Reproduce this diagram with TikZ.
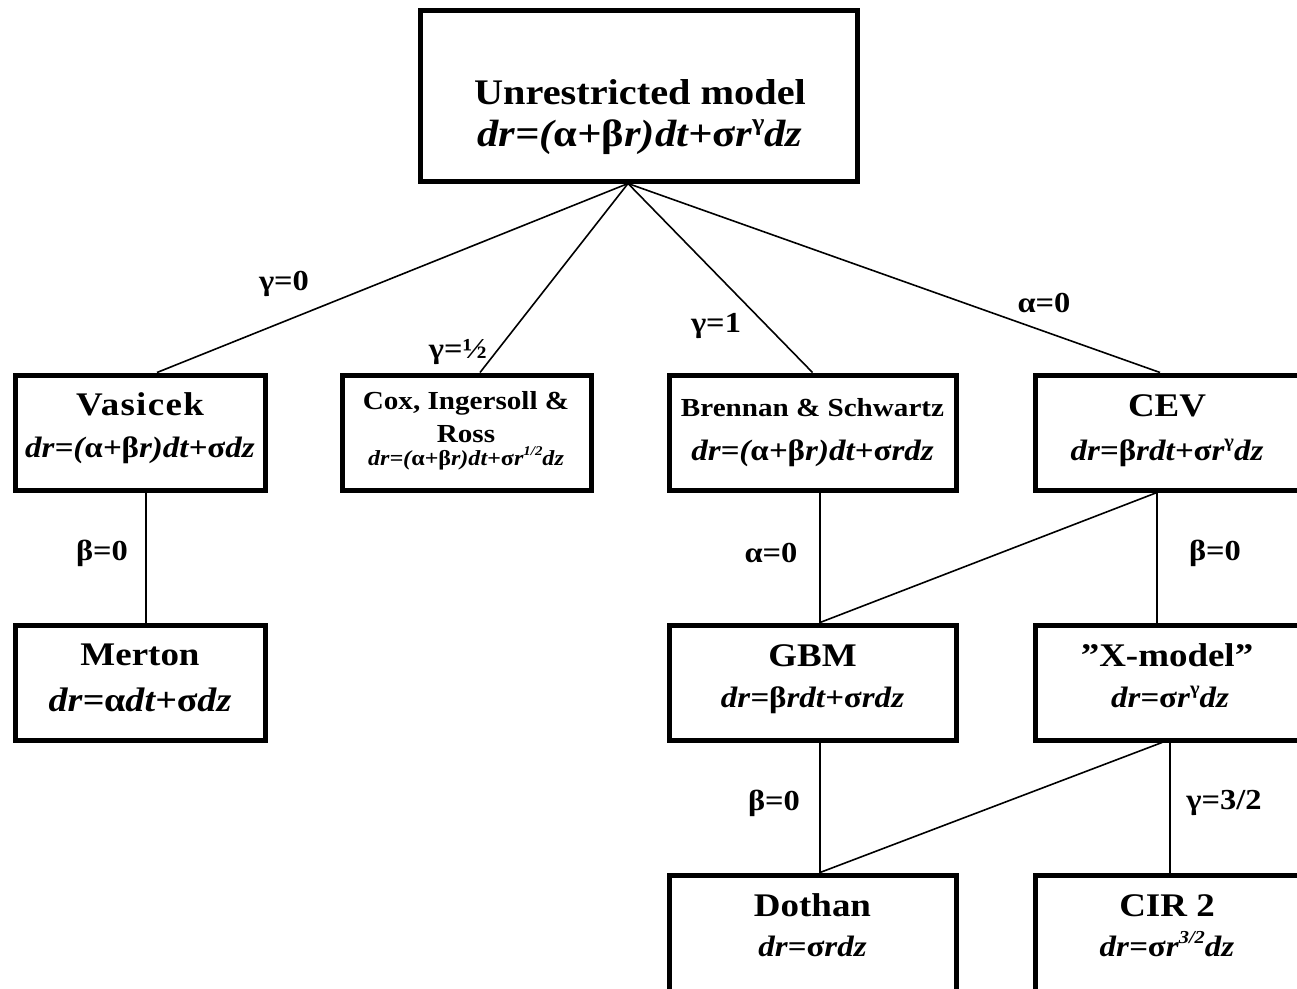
\documentclass[tikz,border=0pt]{standalone}
\usepackage{graphicx}
\usepackage{fontspec}
\setmainfont[FakeStretch=1.12]{Liberation Serif}
\newcommand{\gk}[1]{{\upshape #1}}
\newcommand{\supx}[1]{\raisebox{0.42em}{\scalebox{0.62}{#1}}}
\tikzset{
  box/.style={draw, line width=5pt, inner sep=0pt, minimum height=115pt},
  ttl/.style={font=\bfseries\fontsize{33}{40}\selectfont, anchor=base, inner sep=0pt},
  frm/.style={font=\bfseries\itshape\fontsize{29.5}{36}\selectfont, anchor=base, inner sep=0pt},
  lbl/.style={font=\bfseries\fontsize{29}{32}\selectfont, inner sep=0pt},
  conn/.style={line width=1.6pt}
}
\begin{document}
\begin{tikzpicture}[x=1pt,y=-1pt]
\useasboundingbox (0,0) rectangle (1297,988);
\clip (0,0) rectangle (1297,988);
\fill[white] (0,0) rectangle (1297,988);
% boxes
\node[box, minimum width=437pt, minimum height=170.5pt] (top) at (638.5,95.75) {};
\node[box, minimum width=250pt] (vas) at (140,432.5) {};
\node[box, minimum width=249pt] (cir) at (466.5,432.5) {};
\node[box, minimum width=287pt] (bs) at (812.5,432.5) {};
\node[box, minimum width=275pt] (cev) at (1172.5,432.5) {};
\node[box, minimum width=250pt] (mer) at (140,682.5) {};
\node[box, minimum width=287pt] (gbm) at (812.5,682.5) {};
\node[box, minimum width=275pt] (xm) at (1172.5,682.5) {};
\node[box, minimum width=287pt, minimum height=130pt] (dot) at (812.5,940) {};
\node[box, minimum width=275pt, minimum height=130pt] (cir2) at (1172.5,940) {};
% connectors
\coordinate (hub) at ([xshift=-10.5pt]top.south);
\draw[conn] (hub) -- ([xshift=17pt]vas.north);
\draw[conn] (hub) -- ([xshift=13.5pt]cir.north);
\draw[conn] (hub) -- ([xshift=0pt]bs.north);
\draw[conn] (hub) -- ([xshift=-12.5pt]cev.north);
\draw[conn] ([xshift=6pt]vas.south) -- ([xshift=6pt]mer.north);
\draw[conn] ([xshift=7.5pt]bs.south) -- ([xshift=7.5pt]gbm.north);
\draw[conn] ([xshift=-15.5pt]cev.south) -- ([xshift=-15.5pt]xm.north);
\draw[conn] ([xshift=-15.5pt]cev.south) -- ([xshift=7.5pt]gbm.north);
\draw[conn] ([xshift=7.5pt]gbm.south) -- ([xshift=7.5pt]dot.north);
\draw[conn] ([xshift=-10.5pt]xm.south) -- ([xshift=7.5pt]dot.north);
\draw[conn] ([xshift=-2.5pt]xm.south) -- ([xshift=-2.5pt]cir2.north);
% texts
\node[ttl, font=\bfseries\fontsize{36}{44}\selectfont] (topT) at (640,104) {Unrestricted model};
\node[frm, font=\bfseries\itshape\fontsize{38}{44}\selectfont] (topF) at (640,146) {dr=(\gk{α}+\gk{β}r)dt+\gk{σ}r\supx{\gk{γ}}dz};
\node[ttl] (vasT) at (140,415) {\addfontfeature{LetterSpace=4}Vasicek};
\node[frm] (vasF) at (140,457) {dr=(\gk{α}+\gk{β}r)dt+\gk{σ}dz};
\node[ttl, font=\bfseries\fontsize{26}{30}\selectfont] (cirT1) at (466,409) {Cox, Ingersoll \&};
\node[ttl, font=\bfseries\fontsize{26}{30}\selectfont] (cirT2) at (466,442) {Ross};
\node[frm, font=\bfseries\itshape\fontsize{21.5}{24}\selectfont] (cirF) at (466,465) {dr=(\gk{α}+\gk{β}r)dt+\gk{σ}r\supx{1/2}dz};
\node[ttl, font=\bfseries\fontsize{26}{32}\selectfont] (bsT) at (812.5,416) {Brennan \& Schwartz};
\node[frm] (bsF) at (812.5,460) {dr=(\gk{α}+\gk{β}r)dt+\gk{σ}rdz};
\node[ttl] (cevT) at (1167,416) {CEV};
\node[frm] (cevF) at (1167,460) {dr=\gk{β}rdt+\gk{σ}r\supx{\gk{γ}}dz};
\node[ttl] (merT) at (140,665) {Merton};
\node[frm, font=\bfseries\itshape\fontsize{34}{40}\selectfont] (merF) at (140,711) {dr=\gk{α}dt+\gk{σ}dz};
\node[ttl] (gbmT) at (812.5,666) {GBM};
\node[frm] (gbmF) at (812.5,707) {dr=\gk{β}rdt+\gk{σ}rdz};
\node[ttl] (xmT) at (1167,666) {”X-model”};
\node[frm] (xmF) at (1170,707) {dr=\gk{σ}r\supx{\gk{γ}}dz};
\node[ttl] (dotT) at (812.5,916) {Dothan};
\node[frm] (dotF) at (812.5,956) {dr=\gk{σ}rdz};
\node[ttl] (cir2T) at (1167,916) {CIR 2};
\node[frm] (cir2F) at (1167,956) {dr=\gk{σ}r\supx{3/2}dz};
% labels
\node[lbl] (l1) at (284,284) {γ=0};
\node[lbl] (l2) at (458,352) {γ=½};
\node[lbl] (l3) at (716,326) {γ=1};
\node[lbl] (l4) at (1044,303) {α=0};
\node[lbl] (l5) at (102,553) {β=0};
\node[lbl] (l6) at (771,553) {α=0};
\node[lbl] (l7) at (1215,553) {β=0};
\node[lbl] (l8) at (774,803) {β=0};
\node[lbl] (l9) at (1224,803) {γ=3/2};
\end{tikzpicture}
\end{document}
